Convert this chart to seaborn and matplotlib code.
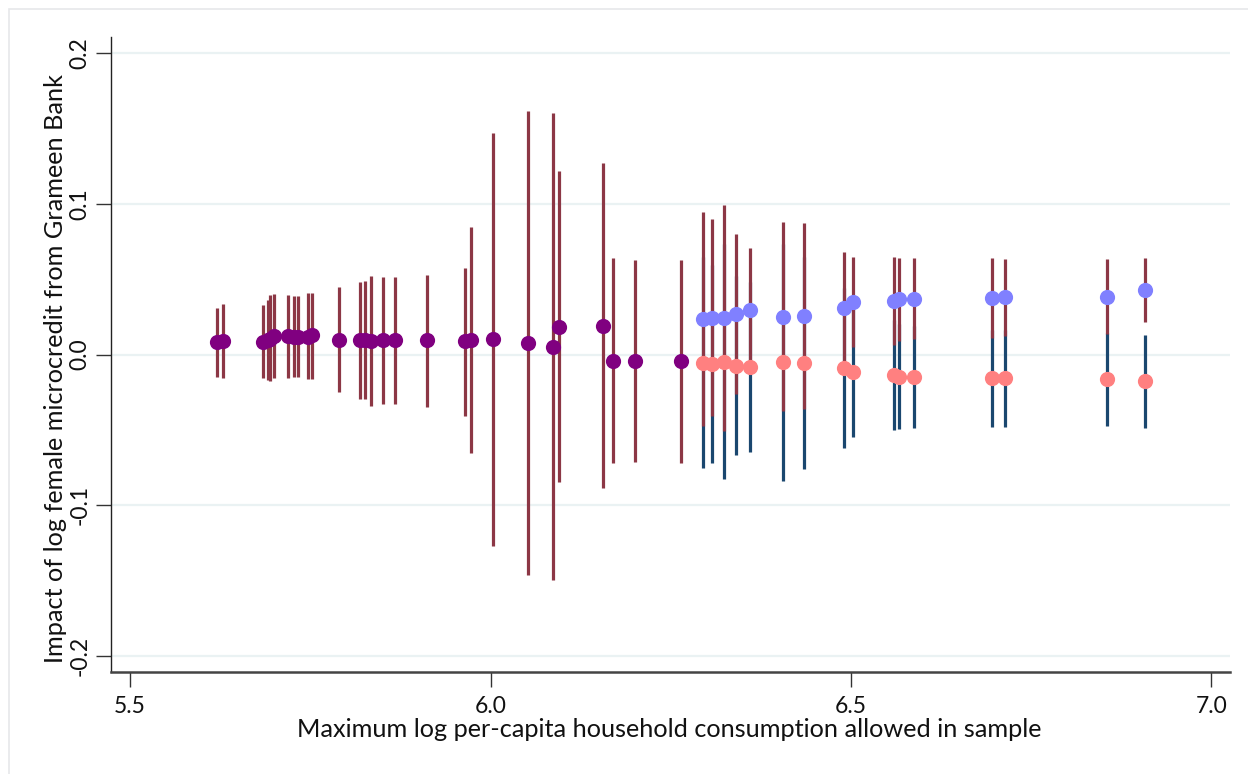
import numpy as np
import pandas as pd
import matplotlib
matplotlib.use("Agg")
import matplotlib.pyplot as plt
import seaborn as sns
from matplotlib.patches import Rectangle

sns.set_theme(style="white")
plt.rcParams['font.family'] = ['Lato', 'DejaVu Sans']

# ---- Data: single-sample estimates (purple) ----
pur_x = [5.6203, 5.6286, 5.6845, 5.6910, 5.6942, 5.6997, 5.7187, 5.7279, 5.7326,
         5.7465, 5.7520, 5.7903, 5.8190, 5.8259, 5.8338, 5.8513, 5.8680, 5.9123,
         5.9646, 5.9725, 6.0039, 6.0516, 6.0871, 6.0954, 6.1556, 6.1703, 6.2008,
         6.2638]
pur_y = [0.0086, 0.0092, 0.0086, 0.0097, 0.0103, 0.0123, 0.0123, 0.0119, 0.0119,
         0.0119, 0.0130, 0.0097, 0.0097, 0.0097, 0.0092, 0.0097, 0.0097, 0.0097,
         0.0092, 0.0097, 0.0101, 0.0079, 0.0052, 0.0185, 0.0192, -0.0040, -0.0040,
         -0.0044]
pur_hi = [0.0309, 0.0336, 0.0329, 0.0362, 0.0395, 0.0402, 0.0395, 0.0391, 0.0391,
          0.0408, 0.0410, 0.0450, 0.0483, 0.0490, 0.0523, 0.0517, 0.0517, 0.0528,
          0.0572, 0.0844, 0.1468, 0.1617, 0.1604, 0.1218, 0.1269, 0.0639, 0.0627,
          0.0627]
pur_lo = [-0.0149, -0.0155, -0.0155, -0.0168, -0.0175, -0.0155, -0.0155, -0.0149, -0.0149,
          -0.0162, -0.0162, -0.0246, -0.0294, -0.0294, -0.0341, -0.0330, -0.0330, -0.0345,
          -0.0407, -0.0651, -0.1269, -0.1462, -0.1495, -0.0847, -0.0883, -0.0721, -0.0714,
          -0.0717]

# ---- Data: split estimates (blue = upper group, salmon = lower group) ----
pair_x = [6.2943, 6.3068, 6.3243, 6.3401, 6.3603, 6.4053, 6.4352, 6.4907,
          6.5032, 6.5597, 6.5662, 6.5874, 6.6960, 6.7136, 6.8551, 6.9078]
blue_y = [0.0236, 0.0245, 0.0241, 0.0269, 0.0296, 0.0251, 0.0256, 0.0311,
          0.0351, 0.0357, 0.0367, 0.0371, 0.0373, 0.0380, 0.0384, 0.0428]
blue_hi = [0.0944, 0.0899, 0.0992, 0.0798, 0.0705, 0.0877, 0.0875, 0.0678,
           0.0649, 0.0649, 0.0643, 0.0639, 0.0639, 0.0634, 0.0634, 0.0639]
blue_lo = [-0.0472, -0.0409, -0.0510, -0.0260, -0.0113, -0.0375, -0.0363, -0.0056,
           0.0053, 0.0065, 0.0091, 0.0103, 0.0107, 0.0126, 0.0134, 0.0217]
sal_y = [-0.0054, -0.0062, -0.0047, -0.0074, -0.0080, -0.0051, -0.0058, -0.0091,
         -0.0117, -0.0135, -0.0147, -0.0149, -0.0157, -0.0157, -0.0164, -0.0178]
sal_hi = [0.0646, 0.0593, 0.0733, 0.0518, 0.0484, 0.0736, 0.0645, 0.0439,
          0.0314, 0.0230, 0.0202, 0.0191, 0.0164, 0.0164, 0.0145, 0.0129]
sal_lo = [-0.0754, -0.0717, -0.0827, -0.0666, -0.0644, -0.0838, -0.0761, -0.0621,
          -0.0548, -0.0500, -0.0496, -0.0489, -0.0478, -0.0478, -0.0473, -0.0485]

x_ticks = [5.5, 6.0, 6.5, 7.0]
x_ticklabels = ["5.5", "6.0", "6.5", "7.0"]
y_ticks = [-0.2, -0.1, 0.0, 0.1, 0.2]
y_ticklabels = ["-0.2", "-0.1", "0.0", "0.1", "0.2"]

# ---- Colours ----
C_RED = "#8C3745"
C_NAVY = "#1A476F"
C_PURPLE = "#800080"
C_BLUE = "#8080FF"
C_SALMON = "#FF8080"
C_GRID = "#EAF2F3"

pur = pd.DataFrame({"x": pur_x, "y": pur_y})
blue = pd.DataFrame({"x": pair_x, "y": blue_y})
sal = pd.DataFrame({"x": pair_x, "y": sal_y})

fig = plt.figure(figsize=(12.48, 7.74), dpi=100)
fig.patch.set_facecolor("white")
fig.patches.append(Rectangle((9 / 1248, -0.01), 1.2, 1 - 9 / 774 + 0.01,
                             transform=fig.transFigure, fill=False,
                             edgecolor="#E6E8EA", linewidth=1.2, zorder=0))

ax = fig.add_axes([111 / 1248, 1 - 672 / 774, (1230 - 111) / 1248, (672 - 37) / 774])
ax.set_facecolor("white")
ax.set_xlim(5.4736, 7.0257)
ax.set_ylim(-0.2105, 0.2106)

ax.set_yticks(y_ticks)
ax.set_yticklabels(y_ticklabels, rotation=90, va="center")
ax.set_xticks(x_ticks)
ax.set_xticklabels(x_ticklabels)
ax.grid(False)
for v in y_ticks:
    ax.axhline(v, color=C_GRID, linewidth=1.6, zorder=0)

# confidence intervals
ax.vlines(pair_x, sal_lo, sal_hi, color=C_NAVY, linewidth=2.3, zorder=2)
ax.vlines(pair_x, blue_lo, blue_hi, color=C_RED, linewidth=2.3, zorder=3)
ax.vlines(pur_x, pur_lo, pur_hi, color=C_RED, linewidth=2.3, zorder=3)

# point estimates
sns.scatterplot(data=pur, x="x", y="y", color=C_PURPLE, s=120, linewidth=0,
                ax=ax, zorder=4, legend=False)
sns.scatterplot(data=sal, x="x", y="y", color=C_SALMON, s=120, linewidth=0,
                ax=ax, zorder=4, legend=False)
sns.scatterplot(data=blue, x="x", y="y", color=C_BLUE, s=120, linewidth=0,
                ax=ax, zorder=4, legend=False)

for s in ["top", "right"]:
    ax.spines[s].set_visible(False)
ax.spines["left"].set_color("#222222")
ax.spines["left"].set_linewidth(1.0)
ax.spines["bottom"].set_color("#444444")
ax.spines["bottom"].set_linewidth(1.8)

ax.tick_params(axis="x", direction="out", length=11, width=1, color="#333333",
               labelsize=16.5, pad=6, labelcolor="#111111", bottom=True)
ax.tick_params(axis="y", direction="out", length=11, width=1, color="#333333",
               labelsize=16.5, pad=4, labelcolor="#111111", left=True)

ax.set_xlabel("Maximum log per-capita household consumption allowed in sample",
              fontsize=18.2, color="#111111")
ax.set_ylabel("Impact of log female microcredit from Grameen Bank",
              fontsize=18.2, color="#111111")
ax.xaxis.set_label_coords(0.4987, -0.073)
ax.yaxis.set_label_coords(-0.039, 0.478)

fig.savefig("out.png", dpi=100)
